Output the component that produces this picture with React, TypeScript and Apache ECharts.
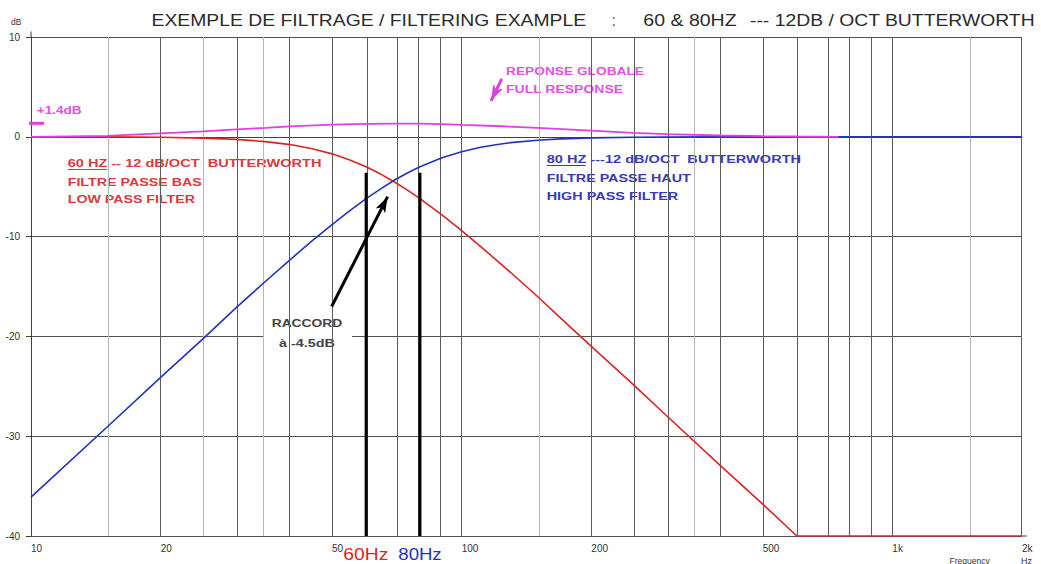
import React, { useEffect, useRef } from "react";
import * as echarts from "echarts";

// ---------- data ----------
const freqs = [10, 15, 20, 25, 30, 35, 40, 45, 50, 55, 60, 65, 70, 75, 80, 90, 100, 110, 120, 130, 150, 170, 200, 250, 300, 400, 500, 600, 700, 1000, 1500, 2000];
const lowPass60 = [0, 0, -0.05, -0.13, -0.26, -0.48, -0.78, -1.19, -1.71, -2.32, -3.01, -3.76, -4.55, -5.37, -6.19, -7.83, -9.4, -10.9, -12.3, -13.6, -16.0, -18.2, -21.0, -24.8, -28.0, -33.0, -36.8, -40, -40, -40, -40, -40];
const highPass80 = [-36.1, -29.1, -24.1, -20.3, -17.1, -14.5, -12.3, -10.4, -8.8, -7.4, -6.2, -5.2, -4.3, -3.6, -3.0, -2.1, -1.5, -1.07, -0.8, -0.58, -0.34, -0.21, -0.11, -0.05, -0.02, 0, 0, 0, 0, 0, 0, 0];
const fullFreqs = [10, 15, 20, 25, 30, 35, 40, 50, 60, 70, 80, 90, 100, 120, 150, 200, 250, 300, 400, 500, 600, 750];
const fullResponse = [0, 0.1, 0.35, 0.55, 0.75, 0.9, 1.05, 1.22, 1.3, 1.33, 1.32, 1.28, 1.2, 1.08, 0.9, 0.62, 0.4, 0.27, 0.13, 0.07, 0.03, 0];

const xTickLabels = [10, 20, 50, 100, 200, 500, 1000, 2000];
const gridFreqs = [15, 20, 25, 30, 35, 40, 50, 60, 70, 80, 90, 100, 150, 200, 250, 300, 350, 400, 500, 600, 700, 800, 900, 1000, 1500, 2000];
const lightGridFreqs = [15, 25, 35, 150, 350, 1500];
const crossoverFreqs = [60, 80];
const crossoverTop = -3.6;
const raccordArrow = [[49.9, -17.0], [67.3, -6.0]];
const fullArrow = [[123.9, 5.8], [117.0, 3.6]];

const FONT = '"Liberation Sans", Arial, sans-serif';
const lg = (f: number) => Math.log10(f);

let ctx: CanvasRenderingContext2D | null = null;
function measure(text: string, size: number, weight: string) {
  if (!ctx) ctx = document.createElement("canvas").getContext("2d");
  ctx!.font = `${weight} ${size}px ${FONT}`;
  return ctx!.measureText(text).width;
}
function fitText(text: string, x: number, y: number, w: number, size: number, weight: string, color: string, z = 4) {
  const mw = measure(text, size, weight);
  return {
    type: "text",
    x,
    y,
    scaleX: w / mw,
    z,
    silent: true,
    style: { text, fill: color, fontSize: size, fontWeight: weight, fontFamily: FONT, align: "left", verticalAlign: "middle" },
  };
}
function box(x: number, y: number, w: number, h: number) {
  return { type: "rect", z: 3, silent: true, shape: { x, y, width: w, height: h }, style: { fill: "#ffffff" } };
}
function seg(x1: number, y1: number, x2: number, y2: number, color: string, width: number) {
  return { type: "line", z: 4, silent: true, shape: { x1, y1, x2, y2 }, style: { stroke: color, lineWidth: width } };
}

const RED = "#dd2424";
const RED_T = "#d83c3c";
const BLUE = "#2232c0";
const BLUE_T = "#3a3ab8";
const MAG = "#e23ee2";
const MAG_T = "#e352e3";
const GREY_T = "#444444";

export default function App() {
  const ref = useRef<HTMLDivElement>(null);
  useEffect(() => {
    if (!ref.current) return;
    const chart = echarts.init(ref.current, undefined, { renderer: "svg" });

    const graphic: any[] = [
      // title
      fitText("EXEMPLE DE FILTRAGE / FILTERING EXAMPLE", 151.5, 20, 435, 17, "normal", "#2a2a2a"),
      fitText(":", 612, 20, 3.5, 17, "normal", "#2a2a2a"),
      fitText("60 & 80HZ", 643.3, 20, 93.4, 17, "normal", "#2a2a2a"),
      fitText("--- 12DB / OCT BUTTERWORTH", 750, 20, 285, 17, "normal", "#2a2a2a"),
      // white boxes behind annotations
      box(58, 145, 270, 67),
      box(534, 143, 276, 63),
      box(500, 58, 150, 42),
      box(263, 310, 89, 45),
      // red block
      fitText("60 HZ -- 12 dB/OCT  BUTTERWORTH", 67.7, 162.8, 254, 11.6, "bold", RED_T),
      fitText("FILTRE PASSE BAS", 67.7, 181.5, 134, 11.6, "bold", RED_T),
      fitText("LOW PASS FILTER", 67.7, 199.3, 127.3, 11.6, "bold", RED_T),
      seg(67.7, 169.5, 107.3, 169.5, RED_T, 1),
      // blue block
      fitText("80 HZ ---12 dB/OCT  BUTTERWORTH", 546.7, 159.3, 254.3, 11.6, "bold", BLUE_T),
      fitText("FILTRE PASSE HAUT", 546.7, 177.7, 144, 11.6, "bold", BLUE_T),
      fitText("HIGH PASS FILTER", 546.7, 196, 131.6, 11.6, "bold", BLUE_T),
      seg(546.7, 165.5, 585.7, 165.5, BLUE_T, 1),
      // full response
      fitText("REPONSE GLOBALE", 506, 70.7, 138, 11.6, "bold", MAG_T),
      fitText("FULL RESPONSE", 506, 88.7, 117.3, 11.6, "bold", MAG_T),
      fitText("+1.4dB", 36.7, 110, 45, 11, "bold", MAG_T),
      seg(29, 123.3, 44, 123.3, MAG, 3),
      // raccord
      fitText("RACCORD", 271.7, 323.3, 70.6, 11, "bold", GREY_T),
      fitText("à -4.5dB", 279, 342.7, 56, 11, "bold", GREY_T),
      // bottom labels
      fitText("60Hz", 343.3, 554.5, 45, 16, "normal", RED),
      fitText("80Hz", 398.3, 554.5, 43.4, 16, "normal", BLUE),
      // axis names
      { type: "text", x: 11, y: 21.5, silent: true, style: { text: "dB", fill: "#333", fontSize: 8.5, fontFamily: FONT, align: "left", verticalAlign: "middle" } },
      { type: "text", x: 949.5, y: 560.5, silent: true, style: { text: "Frequency", fill: "#333", fontSize: 8.5, fontFamily: FONT, align: "left", verticalAlign: "middle" } },
      { type: "text", x: 1021, y: 560.5, silent: true, style: { text: "Hz", fill: "#333", fontSize: 9, fontFamily: FONT, align: "left", verticalAlign: "middle" } },
      // axis overhangs
      seg(31, 31.5, 31, 37, "#404040", 1),
      seg(1022, 536, 1027, 536, "#404040", 1),
    ];

    const curve = (name: string, xs: number[], ys: number[], color: string, width: number) => ({
      type: "line",
      name,
      data: xs.map((f, i) => [lg(f), ys[i]]),
      showSymbol: false,
      smooth: false,
      silent: true,
      z: 5,
      lineStyle: { color, width },
    });

    const option: any = {
      animation: false,
      backgroundColor: "#ffffff",
      grid: { left: 31, right: 19, top: 37, bottom: 28, containLabel: false },
      xAxis: {
        type: "value",
        min: 1,
        max: lg(2000),
        axisLine: { show: true, lineStyle: { color: "#404040", width: 1 } },
        axisTick: { show: false },
        splitLine: { show: false },
        axisLabel: {
          customValues: xTickLabels.map(lg),
          formatter: (v: number) => {
            const f = Math.round(Math.pow(10, v));
            return f >= 1000 ? f / 1000 + "k" : String(f);
          },
          align: "left",
          margin: 7,
          fontSize: 10,
          fontFamily: FONT,
          color: "#333",
        },
      },
      yAxis: {
        type: "value",
        min: -40,
        max: 10,
        interval: 10,
        axisLine: { show: true, lineStyle: { color: "#404040", width: 1 } },
        axisTick: { show: true, length: 5, lineStyle: { color: "#404040" } },
        splitLine: { show: true, lineStyle: { color: "#505050", width: 1 } },
        axisLabel: { fontSize: 10, fontFamily: FONT, color: "#333", margin: 11, padding: [0, 0, 6, 0] },
      },
      series: [
        {
          type: "line",
          name: "grid",
          data: [],
          silent: true,
          z: 1,
          markLine: {
            silent: true,
            animation: false,
            symbol: ["none", "none"],
            label: { show: false },
            data: gridFreqs.map((f) => ({
              xAxis: lg(f),
              lineStyle: { color: lightGridFreqs.includes(f) ? "#b8b8b8" : "#5c5c5c", width: 1, type: "solid" },
            })),
          },
        },
        curve("Low pass 60 Hz", freqs, lowPass60, RED, 1.6),
        curve("High pass 80 Hz", freqs, highPass80, BLUE, 1.6),
        curve("Full response", fullFreqs, fullResponse, MAG, 1.8),
        ...crossoverFreqs.map((f) => ({
          type: "line",
          name: f + " Hz",
          data: [
            [lg(f), crossoverTop],
            [lg(f), -40],
          ],
          showSymbol: false,
          silent: true,
          z: 6,
          lineStyle: { color: "#000", width: 3 },
        })),
        {
          type: "line",
          name: "arrows",
          data: [],
          silent: true,
          z: 6,
          markLine: {
            silent: true,
            animation: false,
            label: { show: false },
            symbol: ["none", "arrow"],
            data: [
              [
                { coord: [lg(raccordArrow[0][0]), raccordArrow[0][1]], lineStyle: { color: "#000", width: 3, type: "solid" }, symbolSize: [10, 14] },
                { coord: [lg(raccordArrow[1][0]), raccordArrow[1][1]] },
              ],
              [
                { coord: [lg(fullArrow[0][0]), fullArrow[0][1]], lineStyle: { color: MAG, width: 3, type: "solid" }, symbolSize: [9, 12] },
                { coord: [lg(fullArrow[1][0]), fullArrow[1][1]] },
              ],
            ],
          },
        },
      ],
      graphic,
    };
    chart.setOption(option);
    return () => chart.dispose();
  }, []);
  return <div ref={ref} style={{ position: "absolute", left: 0, top: 0, width: 1041, height: 564 }} />;
}
